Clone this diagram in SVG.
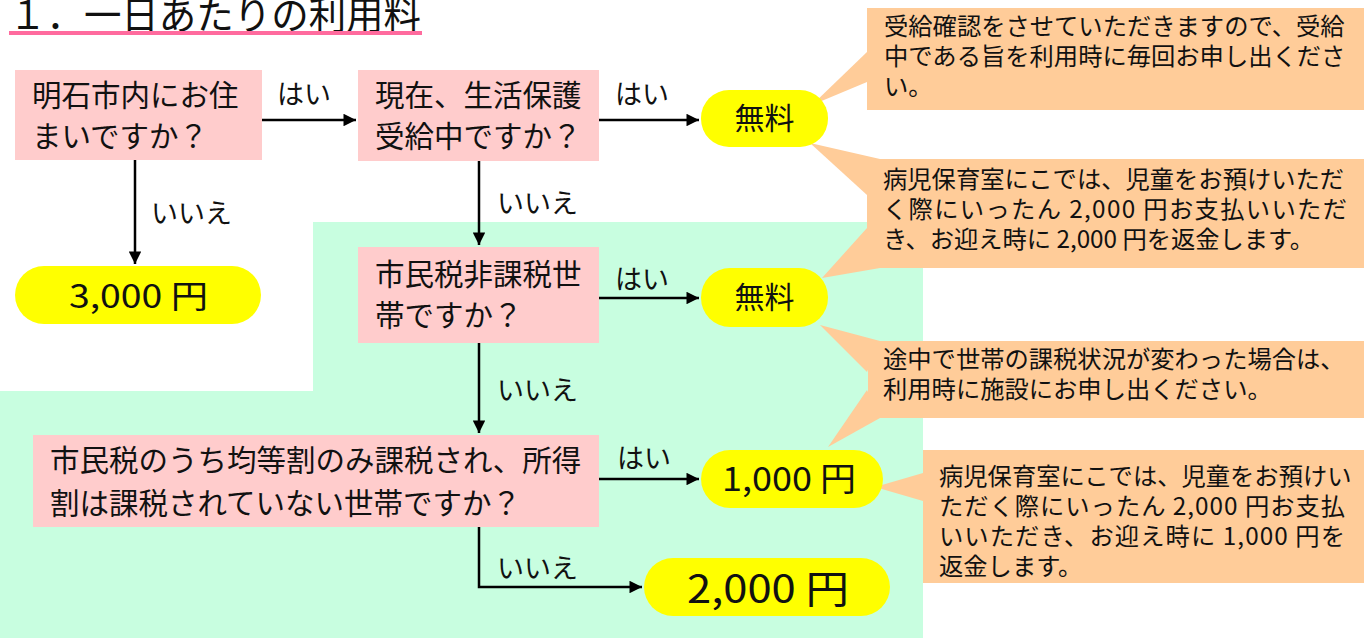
<svg xmlns="http://www.w3.org/2000/svg" width="1364" height="638" viewBox="0 0 1364 638">
<defs>
<style>
text{font-family:"Noto Sans CJK JP","Noto Sans CJK SC",sans-serif;fill:#111;}
.q{fill:#ffcccc;}
.p{fill:#ffff00;}
.c{fill:#ffcc99;}
.qt{font-size:29.5px;}
.lb{font-size:27px;}
.ct{font-size:24.3px;}
.pt{text-anchor:middle;}
.ln{stroke:#000;stroke-width:2.5;fill:none;}
</style>
<marker id="ah" viewBox="0 0 10 10" refX="10" refY="5" markerWidth="6" markerHeight="5" markerUnits="strokeWidth" orient="auto">
<path d="M0,0L10,5L0,10z" fill="#000"/>
</marker>
</defs>
<rect width="1364" height="638" fill="#fff"/>
<polygon points="313,222 923,222 923,638 0,638 0,391 313,391" fill="#c8fee0"/>
<g id="title">
<text x="9" y="29" style="font-size:39px" textLength="412" lengthAdjust="spacingAndGlyphs">１．一日あたりの利用料</text>
<rect x="9" y="31" width="413" height="4" fill="#ff6b9e"/>
</g>
<g id="callout1">
<polygon class="c" points="812,105 867,52 867,82"/>
<rect class="c" x="867" y="8" width="497" height="102"/>
<text class="ct" x="884" y="35">受給確認をさせていただきますので、受給</text>
<text class="ct" x="884" y="65">中である旨を利用時に毎回お申し出くださ</text>
<text class="ct" x="884" y="95">い。</text>
</g>
<g id="callout2">
<polygon class="c" points="810,143 880,159 867,195"/>
<polygon class="c" points="822,278 867,228 880,268"/>
<rect class="c" x="867" y="159" width="497" height="109"/>
<text class="ct" x="883" y="188">病児保育室にこでは、児童をお預けいただ</text>
<text class="ct" x="883" y="218" textLength="464" lengthAdjust="spacing">く際にいったん 2,000 円お支払いいただ</text>
<text class="ct" x="883" y="248" textLength="431" lengthAdjust="spacing">き、お迎え時に 2,000 円を返金します。</text>
</g>
<g id="callout3">
<polygon class="c" points="820,325 880,341 867,372"/>
<polygon class="c" points="828,447 867,390 880,418"/>
<rect class="c" x="868" y="341" width="496" height="77"/>
<text class="ct" x="883" y="368">途中で世帯の課税状況が変わった場合は、</text>
<text class="ct" x="883" y="398">利用時に施設にお申し出ください。</text>
</g>
<g id="callout4">
<polygon class="c" points="875,487 923,473 923,501"/>
<rect class="c" x="923" y="450" width="441" height="133"/>
<text class="ct" x="939" y="485">病児保育室にこでは、児童をお預けい</text>
<text class="ct" x="939" y="515" textLength="406" lengthAdjust="spacing">ただく際にいったん 2,000 円お支払</text>
<text class="ct" x="939" y="545" textLength="406" lengthAdjust="spacing">いいただき、お迎え時に 1,000 円を</text>
<text class="ct" x="939" y="575">返金します。</text>
</g>
<g id="q1">
<rect class="q" x="15" y="70" width="247" height="90"/>
<text class="qt" x="32" y="106">明石市内にお住</text>
<text class="qt" x="32" y="147">まいですか？</text>
</g>
<g id="q2">
<rect class="q" x="358" y="70" width="241" height="91"/>
<text class="qt" x="375" y="106">現在、生活保護</text>
<text class="qt" x="375" y="147">受給中ですか？</text>
</g>
<g id="q3">
<rect class="q" x="358" y="247" width="241" height="96"/>
<text class="qt" x="375" y="285">市民税非課税世</text>
<text class="qt" x="375" y="326">帯ですか？</text>
</g>
<g id="q4">
<rect class="q" x="33" y="435" width="566" height="92"/>
<text class="qt" x="50" y="471">市民税のうち均等割のみ課税され、所得</text>
<text class="qt" x="50" y="514">割は課税されていない世帯ですか？</text>
</g>
<g id="r3000">
<rect class="p" x="15" y="266" width="246" height="58" rx="29"/>
<text x="69" y="308" style="font-size:32px" textLength="139" lengthAdjust="spacingAndGlyphs">3,000 円</text>
</g>
<g id="free1">
<rect class="p" x="701" y="90" width="127" height="57" rx="28"/>
<text class="pt" x="764.5" y="129" style="font-size:30px">無料</text>
</g>
<g id="free2">
<rect class="p" x="701" y="268" width="127" height="59" rx="29"/>
<text class="pt" x="764.5" y="308" style="font-size:30px">無料</text>
</g>
<g id="r1000">
<rect class="p" x="701" y="450" width="182" height="58" rx="29"/>
<text x="722" y="491" style="font-size:33px" textLength="134" lengthAdjust="spacingAndGlyphs">1,000 円</text>
</g>
<g id="r2000">
<rect class="p" x="644" y="558" width="246" height="58" rx="29"/>
<text x="687" y="603" style="font-size:39px" textLength="162" lengthAdjust="spacingAndGlyphs">2,000 円</text>
</g>
<g id="connectors">
<path class="ln" d="M262,120H356" marker-end="url(#ah)"/>
<path class="ln" d="M599,120H699" marker-end="url(#ah)"/>
<path class="ln" d="M135,160V264" marker-end="url(#ah)"/>
<path class="ln" d="M479,161V245" marker-end="url(#ah)"/>
<path class="ln" d="M599,298H699" marker-end="url(#ah)"/>
<path class="ln" d="M479,343V433" marker-end="url(#ah)"/>
<path class="ln" d="M599,479H699" marker-end="url(#ah)"/>
<path class="ln" d="M479,527V587H642" marker-end="url(#ah)"/>
<text class="lb" x="277" y="104">はい</text>
<text class="lb" x="615" y="104">はい</text>
<text class="lb" x="151" y="223">いいえ</text>
<text class="lb" x="497" y="213">いいえ</text>
<text class="lb" x="615" y="289">はい</text>
<text class="lb" x="497" y="400">いいえ</text>
<text class="lb" x="617" y="468">はい</text>
<text class="lb" x="497" y="578">いいえ</text>
</g>
</svg>
